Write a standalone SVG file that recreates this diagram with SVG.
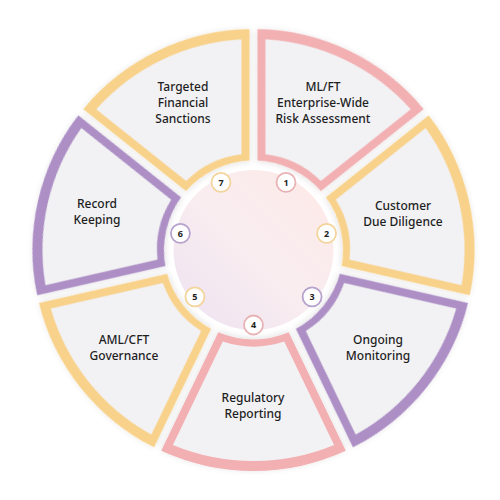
<svg xmlns="http://www.w3.org/2000/svg" width="500" height="500" viewBox="0 0 500 500">
<defs>
<style>
.lbl{font-family:"Noto Sans","Liberation Sans",sans-serif;font-size:12px;font-weight:500;fill:#1e1e1e;text-anchor:middle}
.num{font-family:"Noto Sans","Liberation Sans",sans-serif;font-size:9px;font-weight:700;fill:#1e1e1e;text-anchor:middle}
.inner{fill:#f2f2f4}
.pink{fill:#f2b0b3}
.yellow{fill:#f8d28a}
.purple{fill:#ad8fc6}
.nc{fill:#ffffff;stroke-width:1.8}
</style>
<path id="outer" d="M-92.27,-200.82 A221 221 0 0 1 92.27,-200.82 L35.19,-82.29 A89.5 89.5 0 0 0 -35.19,-82.29 Z"/>
<path id="innr" d="M-80.59,-195 A211 211 0 0 1 80.59,-195 L30.73,-91.48 A96.5 96.5 0 0 0 -30.73,-91.48 Z"/>
<filter id="sh" x="-20%" y="-20%" width="140%" height="140%">
<feDropShadow dx="0" dy="1" stdDeviation="3" flood-color="#000" flood-opacity="0.12"/>
</filter>
<linearGradient id="cg" x1="1" y1="0" x2="0" y2="1">
<stop offset="0" stop-color="#fde9e6"/>
<stop offset="0.5" stop-color="#f9edf0"/>
<stop offset="1" stop-color="#ede2f1"/>
</linearGradient>
</defs>
<rect width="500" height="500" fill="#ffffff"/>
<g transform="translate(253.5,250)">
<circle r="80" fill="url(#cg)"/>
</g>
<g id="seg1" transform="translate(253.5,250)">
<g transform="rotate(25.714)" filter="url(#sh)"><use href="#outer" class="pink"/><use href="#innr" class="inner"/></g>
</g>
<g id="seg2" transform="translate(253.5,250)">
<g transform="rotate(77.143)" filter="url(#sh)"><use href="#outer" class="yellow"/><use href="#innr" class="inner"/></g>
</g>
<g id="seg3" transform="translate(253.5,250)">
<g transform="rotate(128.571)" filter="url(#sh)"><use href="#outer" class="purple"/><use href="#innr" class="inner"/></g>
</g>
<g id="seg4" transform="translate(253.5,250)">
<g transform="rotate(180)" filter="url(#sh)"><use href="#outer" class="pink"/><use href="#innr" class="inner"/></g>
</g>
<g id="seg5" transform="translate(253.5,250)">
<g transform="rotate(231.429)" filter="url(#sh)"><use href="#outer" class="yellow"/><use href="#innr" class="inner"/></g>
</g>
<g id="seg6" transform="translate(253.5,250)">
<g transform="rotate(282.857)" filter="url(#sh)"><use href="#outer" class="purple"/><use href="#innr" class="inner"/></g>
</g>
<g id="seg7" transform="translate(253.5,250)">
<g transform="rotate(334.286)" filter="url(#sh)"><use href="#outer" class="yellow"/><use href="#innr" class="inner"/></g>
</g>
<g id="labels">
<text class="lbl" x="323"><tspan x="323" y="91">ML/FT</tspan><tspan x="323" y="107">Enterprise-Wide</tspan><tspan x="323" y="123">Risk Assessment</tspan></text>
<text class="lbl"><tspan x="403" y="210">Customer</tspan><tspan x="403" y="226">Due Diligence</tspan></text>
<text class="lbl"><tspan x="378" y="344">Ongoing</tspan><tspan x="378" y="360">Monitoring</tspan></text>
<text class="lbl"><tspan x="253" y="402">Regulatory</tspan><tspan x="253" y="418">Reporting</tspan></text>
<text class="lbl"><tspan x="124" y="344">AML/CFT</tspan><tspan x="124" y="360">Governance</tspan></text>
<text class="lbl"><tspan x="97" y="208">Record</tspan><tspan x="97" y="224">Keeping</tspan></text>
<text class="lbl"><tspan x="183" y="91">Targeted</tspan><tspan x="183" y="107">Financial</tspan><tspan x="183" y="123">Sanctions</tspan></text>
</g>
<g id="n1"><circle class="nc" cx="286" cy="182.4" r="9.5" stroke="#e9b3b6"/><text class="num" x="286" y="185.6">1</text></g>
<g id="n2"><circle class="nc" cx="326.6" cy="233.3" r="9.5" stroke="#f3d49a"/><text class="num" x="326.6" y="236.5">2</text></g>
<g id="n3"><circle class="nc" cx="312.1" cy="296.8" r="9.5" stroke="#b7a2cc"/><text class="num" x="312.1" y="300">3</text></g>
<g id="n4"><circle class="nc" cx="253.5" cy="325" r="9.5" stroke="#e9b3b6"/><text class="num" x="253.5" y="328.2">4</text></g>
<g id="n5"><circle class="nc" cx="194.9" cy="296.8" r="9.5" stroke="#f3d49a"/><text class="num" x="194.9" y="300">5</text></g>
<g id="n6"><circle class="nc" cx="180.4" cy="233.3" r="9.5" stroke="#b7a2cc"/><text class="num" x="180.4" y="236.5">6</text></g>
<g id="n7"><circle class="nc" cx="221" cy="182.4" r="9.5" stroke="#f3d49a"/><text class="num" x="221" y="185.6">7</text></g>
</svg>
